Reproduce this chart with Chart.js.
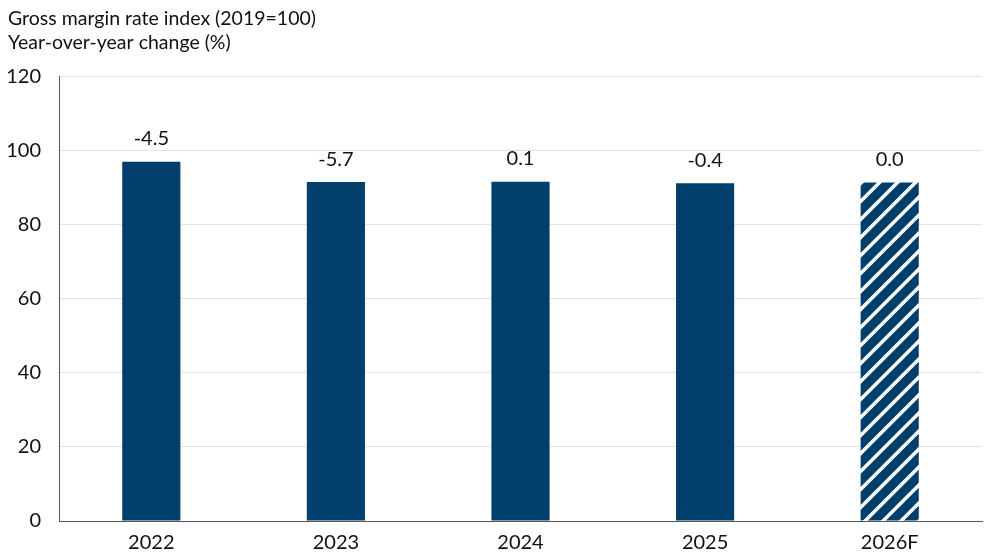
<!DOCTYPE html>
<html>
<head>
<meta charset="utf-8">
<script src="https://cdn.jsdelivr.net/npm/chart.js@4.4.1/dist/chart.umd.min.js"></script>
<style>
  html, body { margin: 0; padding: 0; background: #fff; }
  #wrap { width: 992px; height: 558px; }
</style>
</head>
<body>
<div id="wrap"><canvas id="grafico"></canvas></div>
<script>
const anos = ["2022", "2023", "2024", "2025", "2026F"];
const indice = [97.0, 91.5, 91.6, 91.2, 91.4];
const variacao = ["-4.5", "-5.7", "0.1", "-0.4", "0.0"];
const titulo = ["Gross margin rate index (2019=100)", "Year-over-year change (%)"];

const corBarra = "#003f6c";
const fonte = "Lato, 'Noto Sans', sans-serif";

// hachura para o ano previsto
function criarHachura() {
  const s = 18;
  const tile = document.createElement("canvas");
  tile.width = s;
  tile.height = s;
  const c = tile.getContext("2d");
  c.fillStyle = corBarra;
  c.fillRect(0, 0, s, s);
  c.strokeStyle = "#ffffff";
  c.lineWidth = 3.5;
  c.beginPath();
  c.moveTo(0, s); c.lineTo(s, 0);
  c.moveTo(-s / 2, s / 2); c.lineTo(s / 2, -s / 2);
  c.moveTo(s / 2, s + s / 2); c.lineTo(s + s / 2, s / 2);
  c.stroke();
  return document.getElementById("grafico").getContext("2d").createPattern(tile, "repeat");
}

const rotulosValor = {
  id: "rotulosValor",
  afterDatasetsDraw(chart) {
    const ctx = chart.ctx;
    const meta = chart.getDatasetMeta(0);
    ctx.save();
    ctx.font = "20px " + fonte;
    ctx.fillStyle = "#111";
    ctx.textAlign = "center";
    ctx.textBaseline = "bottom";
    meta.data.forEach((bar, i) => {
      ctx.fillText(variacao[i], bar.x, bar.y - 13);
    });
    ctx.restore();
  }
};

Chart.defaults.font.family = fonte;
Chart.defaults.font.size = 20;
Chart.defaults.color = "#111";

const hachura = criarHachura();

new Chart(document.getElementById("grafico"), {
  type: "bar",
  data: {
    labels: anos,
    datasets: [{
      data: indice,
      backgroundColor: anos.map((a, i) => i === anos.length - 1 ? hachura : corBarra),
      categoryPercentage: 1,
      barPercentage: 0.315
    }]
  },
  options: {
    responsive: true,
    maintainAspectRatio: false,
    animation: false,
    layout: { padding: { left: 8, right: 10, top: 0, bottom: 3 } },
    plugins: {
      legend: { display: false },
      tooltip: { enabled: false },
      title: {
        display: true,
        text: titulo,
        align: "start",
        color: "#111",
        font: { size: 19.5, weight: "normal", lineHeight: 1.27 },
        padding: { top: 6, bottom: 21 }
      }
    },
    scales: {
      x: {
        grid: { display: false, drawTicks: false },
        border: { color: "#555", width: 1 },
        ticks: { padding: 10 },
        afterFit(axis) { axis.height = 34; }
      },
      y: {
        min: 0,
        max: 120,
        ticks: { stepSize: 20, padding: 18 },
        grid: { color: "#e2e2e2", drawTicks: false },
        border: { color: "#555", width: 1 },
        afterFit(axis) { axis.width = 51; }
      }
    }
  },
  plugins: [rotulosValor]
});
</script>
</body>
</html>
